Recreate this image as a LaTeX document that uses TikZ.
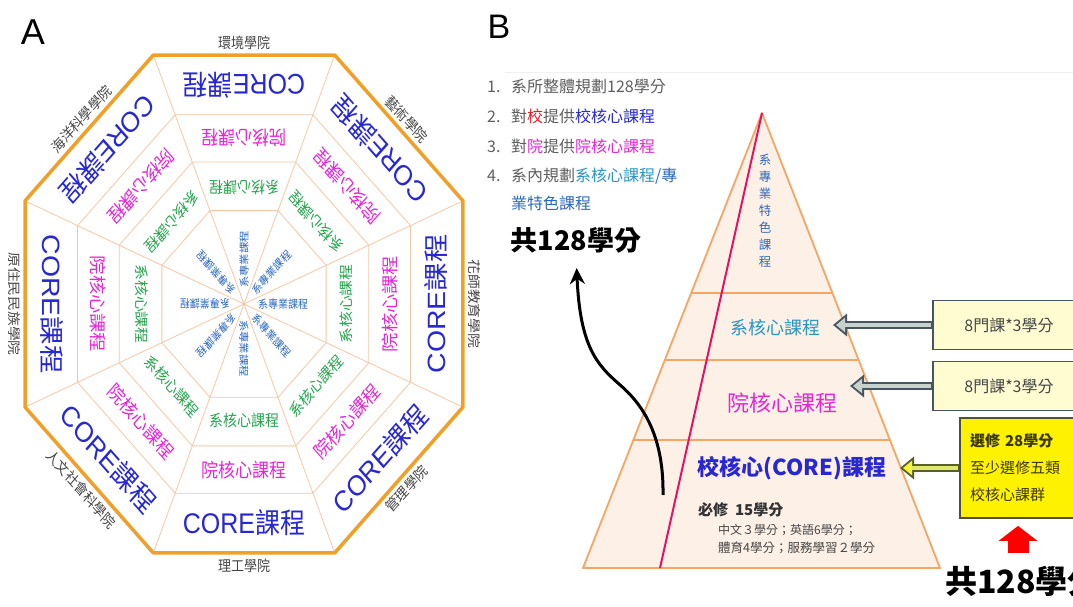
\documentclass[tikz,border=0pt]{standalone}
\usepackage{fontspec}
\setmainfont{Noto Sans CJK TC}
\newfontfamily\lat{Liberation Sans}
\usetikzlibrary{arrows.meta,calc,positioning}
\definecolor{rimorange}{RGB}{240,160,40}
\definecolor{ringline}{RGB}{245,200,165}
\definecolor{coreblue}{RGB}{40,40,210}
\definecolor{collmag}{RGB}{225,40,215}
\definecolor{deptgreen}{RGB}{40,165,80}
\definecolor{specblue}{RGB}{45,105,190}
\definecolor{deptteal}{RGB}{40,150,195}
\definecolor{inkgray}{RGB}{70,70,70}
\definecolor{listgray}{RGB}{95,95,95}
\definecolor{schred}{RGB}{230,30,40}
\definecolor{pyrfill}{RGB}{253,240,230}
\definecolor{pyredge}{RGB}{245,165,100}
\definecolor{redline}{RGB}{225,20,100}
\definecolor{slate}{RGB}{70,85,95}
\definecolor{shaft}{RGB}{200,210,205}
\definecolor{paleyellow}{RGB}{255,252,210}
\definecolor{arrowolive}{RGB}{90,95,40}
\definecolor{arrowlime}{RGB}{220,232,110}
\definecolor{arrowyellow}{RGB}{245,245,60}
\definecolor{boxgray}{RGB}{80,80,60}
\definecolor{boxtext}{RGB}{60,55,10}
\newcommand\core{{\lat CORE}課程}
\newcommand\itemno[1]{\makebox[24pt][l]{#1}}
\tikzset{%
  ring/.style={draw=ringline,line width=0.8pt},
  rim/.style={draw=rimorange,line width=3.5pt,line join=round},
  school/.style={text=coreblue,font=\fontsize{25}{25}\selectfont,inner sep=0pt},
  faculty/.style={text=collmag,font=\fontsize{17}{17}\selectfont,inner sep=0pt},
  dept/.style={text=deptgreen,font=\fontsize{14}{14}\selectfont,inner sep=0pt},
  major/.style={text=specblue,font=\fontsize{10}{10}\selectfont,inner sep=0pt,anchor=west},
  college/.style={text=inkgray,font=\fontsize{13}{13}\selectfont,inner sep=0pt},
  tag/.style={font=\lat\fontsize{36}{36}\selectfont,inner sep=0pt},
  pyr/.style={draw=pyredge,fill=pyrfill,line width=1.8pt,line join=round},
  tier/.style={draw=pyredge,line width=1.2pt},
  plan/.style={text=listgray,font=\fontsize{16}{16}\selectfont,anchor=west,inner sep=0pt},
  note/.style={text=inkgray,anchor=west,inner sep=0pt},
  total/.style={font=\bfseries\fontsize{27}{27}\selectfont,inner sep=0pt},
  credit/.style={draw=slate,fill=paleyellow,line width=1.8pt,minimum width=152pt,
    minimum height=49pt,font=\fontsize{16}{16}\selectfont,text=inkgray},
  hollowout/.style={draw=#1,line width=8pt,-{Triangle[length=14pt,width=22pt]}},
  hollowin/.style={draw=#1,line width=4pt,shorten <=1.5pt,shorten >=3pt,
    -{Triangle[length=9pt,width=14pt]}},
  redup/.style={draw=red,line width=21pt,-{Triangle[length=15pt,width=38pt]}},
  curve/.style={line width=3pt,-{Stealth[length=16pt,width=15pt]}},
}

\begin{document}
\begin{tikzpicture}[x=1pt,y=1pt]
  \path[use as bounding box,fill=white] (0,0) rectangle (1073,607);
  \node[tag] (parta) at (33,575) {A};
  \node[tag,font=\lat\fontsize{34}{34}\selectfont] (partb) at (499,580) {B};

  % octagon A
  \begin{scope}[shift={(244,303)},yscale=1.137,transform shape]
    \foreach \s in {0.375,0.57,0.76}
      \draw[ring,scale=\s] (22.5:237) \foreach \a in {67.5,112.5,...,337.5} {-- (\a:237)} -- cycle;
    \foreach \a in {22.5,67.5,...,337.5}
      \draw[ring] (0,0) -- (\a:237);
    \draw[rim] (22.5:237) \foreach \a in {67.5,112.5,...,337.5} {-- (\a:237)} -- cycle;
    \foreach \a in {0,45,...,315} {
      \node[school,rotate=\a+90] (core\a) at (\a:192) {\core};
      \node[faculty,rotate=\a+90] (coll\a) at (\a:146) {院核心課程};
      \node[dept,rotate=\a+90] (dept\a) at (\a:102) {系核心課程};
      \node[major,rotate=\a] (spec\a) at (\a:14) {系專業課程};
    }
    \foreach \a/\r/\t in {90/0/環境學院,45/-45/藝術學院,0/-90/花師教育學院,-45/45/管理學院,
        -90/0/理工學院,-135/-45/人文社會科學院,180/-90/原住民民族學院,135/45/海洋科學學院}
      \node[college,rotate=\r] (name\a) at (\a:230) {\t};
  \end{scope}

  % list B
  \draw[gray!12] (505,535) -- (1073,535);
  \node[plan] (item1) at (487,521) {\itemno{1.}系所整體規劃128學分};
  \node[plan] (item2) at (487,491) {\itemno{2.}對{\color{schred}校}提供{\color{coreblue}校核心課程}};
  \node[plan] (item3) at (487,461) {\itemno{3.}對{\color{collmag}院}提供{\color{collmag}院核心課程}};
  \node[plan] (item4) at (487,431) {\itemno{4.}系內規劃{\color{deptteal}系核心課程}{\color{specblue}/專}};
  \node[plan,text=specblue] (item5) at (511,404) {業特色課程};
  \node[total] (sum) at (576,367) {共128學分};

  % pyramid B
  \coordinate (apex) at (762,494);
  \coordinate (bl) at (583,39);
  \coordinate (br) at (940,39);
  \coordinate (redfoot) at (660,39);
  \draw[pyr] (apex) -- (br) -- (bl) -- cycle;
  \foreach \t in {0.3956,0.5429,0.7187}
    \draw[tier] ($(apex)!\t!(bl)$) -- ($(apex)!\t!(br)$);
  \draw[redline,line width=2pt] (apex) -- (redfoot);
  \node[text=specblue,font=\fontsize{12.5}{17}\selectfont,align=center,inner sep=0pt] (feature) at (765,396)
    {系\\專\\業\\特\\色\\課\\程};
  \node[text=deptteal,font=\fontsize{18}{18}\selectfont] (deptcore) at (775,279) {系核心課程};
  \node[text=collmag,font=\fontsize{22}{22}\selectfont] (collcore) at (782,204) {院核心課程};
  \node[text=coreblue,font=\bfseries\fontsize{22}{22}\selectfont] (schoolcore) at (792,139) {校核心(CORE)課程};
  \node[note,text=black!80,font=\bfseries\fontsize{15}{15}\selectfont] (must) at (698,97) {必修\ \ 15學分};
  \node[note,font=\fontsize{12}{12}\selectfont] (must1) at (718,77) {中文３學分；英語6學分；};
  \node[note,font=\fontsize{12.5}{12.5}\selectfont] (must2) at (718,59) {體育4學分；服務學習２學分};

  % boxes and arrows
  \node[credit] (box1) at (1009,282) {8門課*3學分};
  \node[credit] (box2) at (1009,221) {8門課*3學分};
  \node[draw=boxgray,fill=yellow,line width=1.8pt,text width=105pt,inner xsep=10pt,minimum height=100pt,
    align=left,font=\fontsize{15}{27}\selectfont,text=boxtext] (elective) at (1022.5,139)
    {\textbf{選修 28學分}\\至少選修五類\\校核心課群};
  \coordinate (tipa) at (833,282);
  \coordinate (tipb) at (850,221);
  \coordinate (tipc) at (900,139);
  \draw[hollowout=slate] (box1.west) -- (tipa);
  \draw[hollowin=shaft] (box1.west) -- (tipa);
  \draw[hollowout=slate] (box2.west) -- (tipb);
  \draw[hollowin=shaft] (box2.west) -- (tipb);
  \draw[hollowout=arrowolive] (elective.west) -- (tipc);
  \draw[hollowin=arrowlime,-{Triangle[length=9pt,width=14pt,color=arrowyellow]}] (elective.west) -- (tipc);
  \coordinate (up) at (1018,54);
  \draw[redup,shorten >=7pt] (up) -- (up |- elective.south);
  \node[total,anchor=west,font=\bfseries\fontsize{32}{32}\selectfont] (sumb) at (945,25) {共128學分};

  \coordinate (rise) at (663,112);
  \draw[curve,shorten >=15pt] (rise) .. controls (664,175) and (640,205) .. (619,223)
    .. controls (596,243) and (580,262) .. (sum.south);
\end{tikzpicture}
\end{document}
